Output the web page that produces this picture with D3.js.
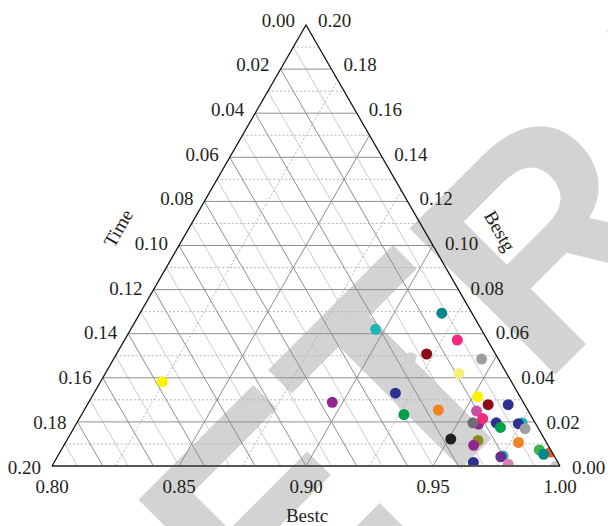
<!DOCTYPE html>
<html>
<head>
<meta charset="utf-8">
<script src="https://cdn.jsdelivr.net/npm/d3@7/dist/d3.min.js"></script>
<style>
    body { margin: 0; background: #fff; }
    svg text { font-family: "Liberation Serif", "Times New Roman", serif; fill: #231f20; }
</style>
</head>
<body>
<script>
// tick labels
var bestcTicks = [0.80, 0.85, 0.90, 0.95, 1.00],
    bestgTicks = [0.00, 0.02, 0.04, 0.06, 0.08, 0.10, 0.12, 0.14, 0.16, 0.18, 0.20],
    timeTicks = [0.00, 0.02, 0.04, 0.06, 0.08, 0.10, 0.12, 0.14, 0.16, 0.18, 0.20];

// points (drawing order = overlap order)
var pointBestc = [0.8243, 0.8959, 0.8964, 0.9188, 0.9310, 0.9167, 0.9221, 0.9449, 0.9392, 0.9187,
                  0.9269, 0.9394, 0.9519, 0.9578, 0.9657, 0.9547, 0.9584, 0.9559, 0.9588, 0.9651,
                  0.9678, 0.9753, 0.9740, 0.9778, 0.9509, 0.9619, 0.9613, 0.9783, 0.9932, 0.9882,
                  0.9909, 0.9651, 0.9753, 0.9746, 0.9792, 0.9985];
var pointBestg = [0.0382, 0.0289, 0.0620, 0.0693, 0.0571, 0.0491, 0.0508, 0.0485, 0.0420, 0.0330,
                  0.0233, 0.0254, 0.0314, 0.0278, 0.0278, 0.0249, 0.0190, 0.0196, 0.0215, 0.0196,
                  0.0175, 0.0195, 0.0192, 0.0169, 0.0122, 0.0116, 0.0094, 0.0107, 0.0063, 0.0073,
                  0.0053, 0.0016, 0.0045, 0.0042, 0.0008, 0.0000];
var pointTime  = [0.1375, 0.0752, 0.0416, 0.0119, 0.0119, 0.0342, 0.0271, 0.0066, 0.0188, 0.0483,
                  0.0498, 0.0352, 0.0167, 0.0144, 0.0065, 0.0204, 0.0226, 0.0245, 0.0197, 0.0153,
                  0.0147, 0.0052, 0.0068, 0.0053, 0.0369, 0.0265, 0.0293, 0.0110, 0.0005, 0.0045,
                  0.0038, 0.0333, 0.0202, 0.0212, 0.0200, 0.0015];
var pointColor = ['#fff200', '#92278f', '#1bb7b5', '#00898c', '#ee2a7b', '#cfd0d2', '#8c0a14', '#9d9fa2', '#f6ef7b', '#2e3192',
                  '#00a14b', '#f58220', '#fff200', '#8c0a14', '#2e3192', '#c8519f', '#92278f', '#6d6e71', '#ee2a7b', '#2e3192',
                  '#00a14b', '#1bb7b5', '#2e3192', '#9d9fa2', '#231f20', '#8a8a1a', '#92278f', '#f58220', '#f15a24', '#39b54a',
                  '#00898c', '#2e3192', '#1bb7b5', '#662d91', '#d582b8', '#c8c8c8'];

var width = 608,
    height = 526,
    x0 = 52, x1 = 560, y0 = 466, yTop = 25,
    shear = (x1 - x0) / 2 / (y0 - yTop),
    fmt = d3.format('.2f');

var cScale = d3.scaleLinear().domain([0.8, 1]).range([x0, x1]),
    gScale = d3.scaleLinear().domain([0, 0.2]).range([y0, yTop]);

// bestc + bestg (+ time = rest) -> pixel
function project(c, g) {
    var y = gScale(g);
    return [cScale(c) + (y0 - y) * shear, y];
}

var svg = d3.select('body').append('svg')
    .attr('width', width)
    .attr('height', height);

svg.append('rect').attr('width', width).attr('height', height).attr('fill', '#fff');

// watermark stamp
svg.append('text')
    .attr('transform', 'translate(117,813) rotate(-45)')
    .style('font-family', '"Liberation Sans", Arial, sans-serif')
    .style('font-weight', 'bold')
    .style('font-size', '300px')
    .style('fill', '#d3d3d3')
    .text('RETRACTED');

var corners = [project(0.8, 0), project(1, 0), project(0.8, 0.2)];

var grid = svg.append('g');

function addLines(vals, ends, stroke, dash) {
    grid.append('g').selectAll('line')
        .data(vals)
        .enter()
        .append('line')
        .attr('x1', function(d) { return ends(d)[0][0]; })
        .attr('y1', function(d) { return ends(d)[0][1]; })
        .attr('x2', function(d) { return ends(d)[1][0]; })
        .attr('y2', function(d) { return ends(d)[1][1]; })
        .attr('stroke', stroke)
        .attr('stroke-width', 1)
        .attr('stroke-dasharray', dash);
}

var gLine = function(g) { return [project(0.8, g), project(1 - g, g)]; },
    tLine = function(t) { return [project(1 - t, 0), project(0.8, 0.2 - t)]; },
    cLine = function(c) { return [project(c, 0), project(c, 1 - c)]; };

// minor
addLines([0.01, 0.03, 0.05, 0.07, 0.09, 0.11, 0.13, 0.15, 0.17, 0.19], gLine, '#b5b5b5', '2,2');
addLines([0.01, 0.03, 0.05, 0.07, 0.09, 0.11, 0.13, 0.15, 0.17, 0.19], tLine, '#cbcbcb', null);
addLines([0.825, 0.875, 0.925, 0.975], cLine, '#b5b5b5', '2,2');
// major
addLines([0.02, 0.04, 0.06, 0.08, 0.10, 0.12, 0.14, 0.16, 0.18], gLine, '#8e8e8e', null);
addLines([0.02, 0.04, 0.06, 0.08, 0.10, 0.12, 0.14, 0.16, 0.18], tLine, '#8e8e8e', null);
addLines([0.85, 0.90, 0.95], cLine, '#8e8e8e', null);

// points, clipped to the triangle
svg.append('clipPath').attr('id', 'tri')
    .append('path')
    .attr('d', 'M' + corners.join('L') + 'Z');

svg.append('g')
    .attr('clip-path', 'url(#tri)')
    .selectAll('circle')
    .data(d3.range(pointBestc.length))
    .enter()
    .append('circle')
    .attr('cx', function(i) { return project(pointBestc[i], pointBestg[i])[0]; })
    .attr('cy', function(i) { return project(pointBestc[i], pointBestg[i])[1]; })
    .attr('r', 5.5)
    .attr('fill', function(i) { return pointColor[i]; });

// frame
svg.append('line')
    .attr('x1', corners[0][0]).attr('y1', corners[0][1])
    .attr('x2', corners[1][0]).attr('y2', corners[1][1])
    .attr('stroke', '#555').attr('stroke-width', 2);
svg.append('path')
    .attr('d', 'M' + corners[0] + 'L' + corners[2] + 'L' + corners[1])
    .attr('fill', 'none')
    .attr('stroke', '#111')
    .attr('stroke-width', 1.3);

var shift = function(y) { return -5 + 6 * (y - yTop) / (y0 - yTop) + 6.5; };

// Time labels (left side)
svg.append('g').selectAll('text')
    .data(timeTicks)
    .enter()
    .append('text')
    .attr('x', function(t) { return project(0.8, 0.2 - t)[0] - 11; })
    .attr('y', function(t) { var y = project(0.8, 0.2 - t)[1]; return y + shift(y); })
    .style('font-size', '19px')
    .style('text-anchor', 'end')
    .text(fmt);

// Bestg labels (right side)
svg.append('g').selectAll('text')
    .data(bestgTicks)
    .enter()
    .append('text')
    .attr('x', function(g) { return project(1 - g, g)[0] + 12; })
    .attr('y', function(g) { var y = project(1 - g, g)[1]; return y + shift(y); })
    .style('font-size', '19px')
    .style('text-anchor', 'start')
    .text(fmt);

// Bestc labels (bottom)
svg.append('g').selectAll('text')
    .data(bestcTicks)
    .enter()
    .append('text')
    .attr('x', function(c) { return project(c, 0)[0]; })
    .attr('y', y0 + 27)
    .style('font-size', '19px')
    .style('text-anchor', 'middle')
    .text(fmt);

// axis titles
svg.append('text')
    .attr('x', 307).attr('y', 522)
    .style('font-size', '19px')
    .style('text-anchor', 'middle')
    .text('Bestc');
svg.append('text')
    .attr('transform', 'translate(118,228) rotate(-60)')
    .attr('dy', '0.35em')
    .style('font-size', '19px')
    .style('text-anchor', 'middle')
    .text('Time');
svg.append('text')
    .attr('transform', 'translate(500,231) rotate(60)')
    .attr('dy', '0.35em')
    .style('font-size', '19px')
    .style('text-anchor', 'middle')
    .text('Bestg');
</script>
</body>
</html>
